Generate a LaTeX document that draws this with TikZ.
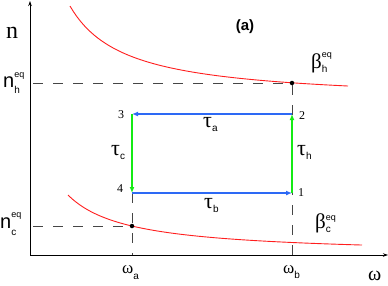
\documentclass[tikz,border=0pt]{standalone}
\usepackage{fontspec}
\setmainfont{Liberation Serif}
\setsansfont{Liberation Sans}
\usepackage{tikz}
\usetikzlibrary{arrows.meta,calc}
\definecolor{curvecolor}{RGB}{255,30,30}
\definecolor{isocolor}{RGB}{45,105,245}
\definecolor{adiacolor}{RGB}{20,235,20}
\definecolor{guidecolor}{RGB}{70,70,70}
\newcommand{\ssub}[2][-4pt]{\raisebox{#1}{\sffamily\fontsize{10}{10}\selectfont #2}}
\newcommand{\seq}[1][10pt]{\raisebox{#1}{\sffamily\fontsize{9}{9}\selectfont eq}}

\begin{document}
\begin{tikzpicture}[
    x=1pt, y=-1pt,
    lbl/.style={inner sep=0pt, anchor=base west},
    num/.style={inner sep=0pt, font=\fontsize{12}{12}\selectfont},
    axis/.style={-{Stealth[length=5pt,width=3.5pt]}, line width=0.8pt},
    guide/.style={guidecolor, line width=0.8pt, dash pattern=on 10pt off 10pt},
    curve/.style={curvecolor, line width=0.9pt},
    cyc/.style={-{Latex[length=6pt,width=5pt]}, line width=1.6pt},
    dot/.style={circle, fill=black, inner sep=0pt, minimum size=4.5pt}
]
\useasboundingbox (0,0) rectangle (388,285);

% axes
\coordinate (origin) at (30,255);
\coordinate (ytop) at (30,1);
\coordinate (xend) at (388,255);
\draw[axis] (origin) -- (ytop);
\draw[axis] (origin) -- (xend);

% equilibrium curves
\draw[curve] plot[domain=70:348, samples=80] (\x, {102 - 5335/(\x-14.4)});
\draw[curve] plot[domain=68:362, samples=80] (\x, {255.3 - 3643/(\x-7.56)});

\node[dot] (hdot) at (292,83) {};
\node[dot] (cdot) at (132,226) {};

% cycle corners
\coordinate (s1) at (292,193);
\coordinate (s2) at (292,114);
\coordinate (s3) at (132,114);
\coordinate (s4) at (132,193);

% guide lines
\coordinate (nhaxis) at (33,83);
\coordinate (ncaxis) at (33,226);
\coordinate (wa) at (132,255);
\coordinate (wb) at (292,255);
\draw[guide] (nhaxis) -- (hdot);
\draw[guide] (hdot) -- (wb);
\draw[guide] (ncaxis) -- (cdot);
\draw[guide] (s4) -- (wa);

% cycle
\draw[cyc, isocolor] (s2) -- (s3);
\draw[cyc, isocolor] (s4) -- (s1);
\draw[cyc, adiacolor] (s3) -- (s4);
\draw[cyc, adiacolor] (s1) -- (s2);

\node[num] (n1) at (301,193) {1};
\node[num] (n2) at (302,116) {2};
\node[num] (n3) at (121,115) {3};
\node[num] (n4) at (120,189) {4};

\node[lbl, font=\fontsize{22}{22}\selectfont] (taua) at (203,127) {τ\ssub{a}};
\node[lbl, font=\fontsize{22}{22}\selectfont] (taub) at (204,208) {τ\ssub{b}};
\node[lbl, font=\fontsize{22}{22}\selectfont] (tauc) at (111,155) {τ\ssub{c}};
\node[lbl, font=\fontsize{22}{22}\selectfont] (tauh) at (297,155) {τ\ssub{h}};

% axis labels
\node[lbl, font=\fontsize{24}{24}\selectfont] (nlabel) at (6,38) {n};
\node[lbl, font=\sffamily\fontsize{20}{20}\selectfont] (nh) at (3,87) {n\rlap{\ssub[-6pt]{h}}\seq};
\node[lbl, font=\sffamily\fontsize{20}{20}\selectfont] (nc) at (0,228) {n\rlap{\ssub[-7pt]{c}}\seq[11pt]};
\node[lbl, font=\fontsize{21}{21}\selectfont] (betah) at (311,68) {β\rlap{\ssub{h}}\seq[11pt]};
\node[lbl, font=\fontsize{21}{21}\selectfont] (betac) at (315,228) {β\rlap{\ssub{c}}\seq[8pt]};
\node[lbl, font=\fontsize{17}{17}\selectfont] (omegaa) at (122,273) {ω\ssub[-6pt]{a}};
\node[lbl, font=\fontsize{17}{17}\selectfont] (omegab) at (283,273) {ω\ssub[-5pt]{b}};
\node[lbl, font=\fontsize{20}{20}\selectfont] (omega) at (368,280) {ω};

\node[inner sep=0pt, font=\sffamily\bfseries\fontsize{15}{15}\selectfont] (panel) at (245,27) {(a)};

\end{tikzpicture}
\end{document}
